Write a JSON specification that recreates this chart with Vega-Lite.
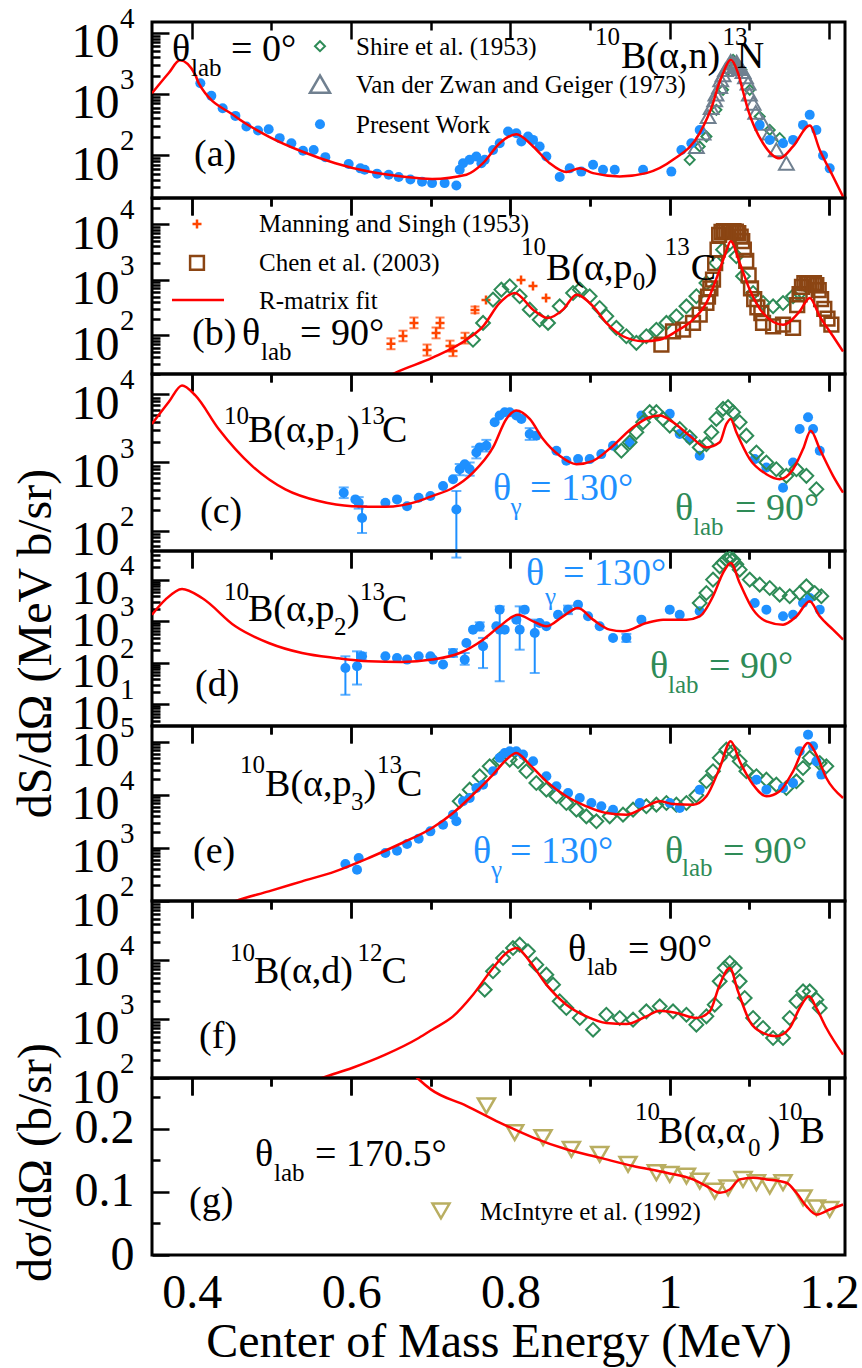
{
  "$schema": "https://vega.github.io/schema/vega-lite/v6.json",
  "background": "white",
  "padding": {"left": 10, "top": 2, "right": 10, "bottom": 5},
  "spacing": 0,
  "bounds": "flush",
  "config": {
    "font": "Liberation Serif",
    "view": {"stroke": "black", "strokeWidth": 3},
    "axis": {
      "domain": false,
      "tickColor": "black",
      "tickWidth": 2.5,
      "gridColor": "black",
      "gridOpacity": 1,
      "gridWidth": 2.5,
      "labelFont": "Liberation Serif",
      "labelFontSize": 48,
      "labelColor": "black",
      "labelOverlap": false,
      "labelFlush": false,
      "titleFont": "Liberation Serif",
      "titleFontSize": 48,
      "titleFontWeight": "normal",
      "titleColor": "black"
    }
  },
  "vconcat": [
    {
      "width": 693,
      "height": 176,
      "encoding": {
        "x": {"field": "E", "type": "quantitative", "scale": {"domain": [0.35, 1.22], "nice": false, "zero": false}, "axis": null},
        "y": {"field": "v", "type": "quantitative", "scale": {"type": "log", "domain": [20, 15000], "nice": false}, "axis": null}
      },
      "resolve": {"axis": {"x": "independent", "y": "independent"}},
      "layer": [
        {
          "data": {"values": [
            {"E": 1.025, "v": 84}, {"E": 1.0376, "v": 139}, {"E": 1.046, "v": 202}, {"E": 1.0585, "v": 551},
            {"E": 1.0669, "v": 1168}, {"E": 1.0732, "v": 2480}, {"E": 1.0795, "v": 3610}, {"E": 1.09, "v": 2480},
            {"E": 1.1004, "v": 1168}, {"E": 1.1129, "v": 428}, {"E": 1.1255, "v": 259}, {"E": 1.138, "v": 190},
            {"E": 0.5609, "v": 6040}
          ]},
          "mark": {"type": "point", "shape": "diamond", "filled": false, "color": "#2e8b57", "size": 100, "strokeWidth": 2, "opacity": 1, "clip": true}
        },
        {
          "data": {"values": [
            {"E": 1.0334, "v": 139}, {"E": 1.0418, "v": 229}, {"E": 1.0481, "v": 428}, {"E": 1.052, "v": 600},
            {"E": 1.0564, "v": 802}, {"E": 1.058, "v": 1000}, {"E": 1.0627, "v": 1325}, {"E": 1.064, "v": 1700},
            {"E": 1.0669, "v": 2055}, {"E": 1.07, "v": 2500}, {"E": 1.0732, "v": 2810}, {"E": 1.0765, "v": 3400},
            {"E": 1.0795, "v": 3187}, {"E": 1.0826, "v": 3000}, {"E": 1.084, "v": 3300}, {"E": 1.0857, "v": 2810},
            {"E": 1.0889, "v": 2600}, {"E": 1.092, "v": 2330}, {"E": 1.0951, "v": 1900}, {"E": 1.0983, "v": 1502},
            {"E": 1.1, "v": 1000}, {"E": 1.1046, "v": 707}, {"E": 1.108, "v": 500}, {"E": 1.1171, "v": 333},
            {"E": 1.1255, "v": 229}, {"E": 1.1338, "v": 122}, {"E": 1.1464, "v": 74}
          ]},
          "mark": {"type": "point", "shape": "triangle-up", "filled": false, "color": "#708090", "size": 220, "strokeWidth": 2, "opacity": 1, "clip": true}
        },
        {
          "data": {"values": [{"E": 0.5609, "v": 1445}]},
          "mark": {"type": "point", "shape": "triangle-up", "filled": false, "color": "#708090", "size": 400, "strokeWidth": 2.5, "opacity": 1}
        },
        {
          "data": {"values": [
            {"E": 0.4107, "v": 1502}, {"E": 0.4245, "v": 932}, {"E": 0.4387, "v": 586}, {"E": 0.4547, "v": 439},
            {"E": 0.4685, "v": 294}, {"E": 0.4831, "v": 253}, {"E": 0.4965, "v": 266}, {"E": 0.5103, "v": 190},
            {"E": 0.525, "v": 157}, {"E": 0.5396, "v": 118}, {"E": 0.553, "v": 122}, {"E": 0.5676, "v": 93},
            {"E": 0.5969, "v": 72}, {"E": 0.6116, "v": 61}, {"E": 0.617, "v": 58}, {"E": 0.6325, "v": 50},
            {"E": 0.6472, "v": 48}, {"E": 0.6597, "v": 44}, {"E": 0.6744, "v": 40}, {"E": 0.689, "v": 37},
            {"E": 0.7016, "v": 35}, {"E": 0.7174, "v": 35}, {"E": 0.7321, "v": 32}, {"E": 0.7363, "v": 58},
            {"E": 0.7405, "v": 74}, {"E": 0.7488, "v": 84}, {"E": 0.7572, "v": 95}, {"E": 0.7635, "v": 74},
            {"E": 0.7677, "v": 84}, {"E": 0.7781, "v": 122}, {"E": 0.7865, "v": 157}, {"E": 0.797, "v": 244},
            {"E": 0.8074, "v": 229}, {"E": 0.8137, "v": 167}, {"E": 0.8221, "v": 202}, {"E": 0.8284, "v": 178},
            {"E": 0.8367, "v": 139}, {"E": 0.8451, "v": 95}, {"E": 0.8618, "v": 44}, {"E": 0.8744, "v": 61},
            {"E": 0.889, "v": 54}, {"E": 0.9037, "v": 70}, {"E": 0.9162, "v": 58}, {"E": 0.9309, "v": 58},
            {"E": 0.9665, "v": 58}, {"E": 1.002, "v": 54}, {"E": 1.0146, "v": 122}, {"E": 1.0271, "v": 157},
            {"E": 1.0376, "v": 259}, {"E": 1.1129, "v": 313}, {"E": 1.1255, "v": 178}, {"E": 1.1422, "v": 157},
            {"E": 1.1548, "v": 178}, {"E": 1.1673, "v": 313}, {"E": 1.1757, "v": 456}, {"E": 1.1841, "v": 259},
            {"E": 1.1924, "v": 99}, {"E": 1.2008, "v": 61},
            {"E": 0.5609, "v": 321}
          ]},
          "mark": {"type": "point", "shape": "circle", "filled": true, "color": "#1e90ff", "size": 100, "opacity": 1, "clip": true}
        },
        {
          "data": {"values": [
            {"E": 0.35, "v": 1030}, {"E": 0.371, "v": 2200}, {"E": 0.385, "v": 3550}, {"E": 0.4044, "v": 2050},
            {"E": 0.4086, "v": 1500}, {"E": 0.4547, "v": 430}, {"E": 0.4965, "v": 202}, {"E": 0.5384, "v": 115},
            {"E": 0.5802, "v": 74}, {"E": 0.622, "v": 54}, {"E": 0.664, "v": 45}, {"E": 0.7016, "v": 41},
            {"E": 0.7447, "v": 48}, {"E": 0.7656, "v": 74}, {"E": 0.7865, "v": 157}, {"E": 0.8074, "v": 220},
            {"E": 0.8284, "v": 139}, {"E": 0.8493, "v": 74}, {"E": 0.8702, "v": 53}, {"E": 0.887, "v": 61},
            {"E": 0.9037, "v": 51}, {"E": 0.9372, "v": 45}, {"E": 0.9706, "v": 51}, {"E": 1.004, "v": 84},
            {"E": 1.0376, "v": 229}, {"E": 1.0543, "v": 708}, {"E": 1.06, "v": 1260}, {"E": 1.0669, "v": 2190},
            {"E": 1.0765, "v": 3610}, {"E": 1.0857, "v": 2190}, {"E": 1.092, "v": 1100}, {"E": 1.0983, "v": 551},
            {"E": 1.1171, "v": 157}, {"E": 1.138, "v": 89}, {"E": 1.1548, "v": 139}, {"E": 1.1757, "v": 305},
            {"E": 1.1883, "v": 122}, {"E": 1.205, "v": 45}, {"E": 1.2176, "v": 21}
          ]},
          "mark": {"type": "line", "color": "red", "strokeWidth": 2.5, "interpolate": "monotone", "clip": true},
          "encoding": {
            "x": {"field": "E", "type": "quantitative", "scale": {"domain": [0.35, 1.22], "nice": false, "zero": false},
              "axis": {"orient": "bottom", "values": [0.4, 0.5, 0.6, 0.7, 0.8, 0.9, 1, 1.1, 1.2], "labels": false, "title": null,
                "tickSize": {"condition": {"test": "abs(datum.value*5-round(datum.value*5))<0.01", "value": 17}, "value": 8},
                "grid": true, "gridDash": {"condition": {"test": "abs(datum.value*5-round(datum.value*5))<0.01", "value": [17, 2000]}, "value": [8, 2000]}}},
            "y": {"field": "v", "type": "quantitative", "scale": {"type": "log", "domain": [20, 15000], "nice": false},
              "axis": {"orient": "left", "values": [20, 30, 40, 50, 60, 70, 80, 90, 100, 200, 300, 400, 500, 600, 700, 800, 900, 1000, 2000, 3000, 4000, 5000, 6000, 7000, 8000, 9000, 10000],
                "ticks": false, "tickSize": 0, "grid": true,
                "gridDash": {"condition": {"test": "abs(log(datum.value)/LN10-round(log(datum.value)/LN10))<0.001", "value": [17, 2000]}, "value": [8, 2000]},
                "labelExpr": "indexof([100,1000,10000],datum.value)>=0?'10':''", "labelPadding": 33, "labelOffset": 10, "title": null}}
          }
        },
        {
          "data": {"values": [
            {"E": 0.3751, "v": 3436, "t": "θ", "grp": "main"},
            {"E": 0.4492, "v": 3436, "t": "= 0°", "grp": "main"},
            {"E": 0.4027, "v": 66, "t": "(a)", "grp": "main"},
            {"E": 0.9388, "v": 2640, "t": "B(α,n)", "grp": "main"},
            {"E": 1.084, "v": 2640, "t": "N", "grp": "main"}
          ]},
          "mark": {"type": "text", "align": "left", "baseline": "alphabetic", "fontSize": 38, "font": "Liberation Serif"},
          "encoding": {
            "text": {"field": "t"},
            "color": {"field": "grp", "type": "nominal", "scale": {"domain": ["main", "gamma", "lab"], "range": ["black", "#1e90ff", "#2e8b57"]}, "legend": null}
          }
        },
        {
          "data": {"values": [
            {"E": 0.399, "v": 1954, "t": "lab", "grp": "main"},
            {"E": 0.9062, "v": 6270, "t": "10", "grp": "main"},
            {"E": 1.0661, "v": 6270, "t": "13", "grp": "main"},
            {"E": 0.6061, "v": 4306, "t": "Shire et al. (1953)", "grp": "main"},
            {"E": 0.6061, "v": 1031, "t": "Van der Zwan and Geiger (1973)", "grp": "main"},
            {"E": 0.6061, "v": 229, "t": "Present Work", "grp": "main"}
          ]},
          "mark": {"type": "text", "align": "left", "baseline": "alphabetic", "fontSize": 25, "font": "Liberation Serif"},
          "encoding": {
            "text": {"field": "t"},
            "color": {"field": "grp", "type": "nominal", "scale": {"domain": ["main", "gamma", "lab"], "range": ["black", "#1e90ff", "#2e8b57"]}, "legend": null},
            "y": {"field": "v", "type": "quantitative", "scale": {"type": "log", "domain": [20, 15000], "nice": false},
              "axis": {"orient": "left", "values": [100, 1000, 10000], "ticks": false, "tickSize": 0, "grid": false,
                "labelExpr": "''+round(log(datum.value)/LN10)", "labelFontSize": 29, "labelPadding": 18, "labelOffset": -14.5, "title": null}}
          }
        }
      ]
    },
    {
      "width": 693,
      "height": 176,
      "encoding": {
        "x": {"field": "E", "type": "quantitative", "scale": {"domain": [0.35, 1.22], "nice": false, "zero": false}, "axis": null},
        "y": {"field": "v", "type": "quantitative", "scale": {"type": "log", "domain": [20, 30000], "nice": false}, "axis": null}
      },
      "resolve": {"axis": {"x": "independent", "y": "independent"}},
      "layer": [
        {
          "data": {"values": [
            {"E": 0.65, "lo": 56, "hi": 88}, {"E": 0.6651, "lo": 78, "hi": 121}, {"E": 0.6789, "lo": 134, "hi": 209},
            {"E": 0.6953, "lo": 43, "hi": 68}, {"E": 0.7066, "lo": 88, "hi": 138}, {"E": 0.7116, "lo": 134, "hi": 209},
            {"E": 0.7241, "lo": 51, "hi": 80}, {"E": 0.7279, "lo": 42, "hi": 65}, {"E": 0.743, "lo": 71, "hi": 111},
            {"E": 0.7555, "lo": 250, "hi": 330}
          ]},
          "mark": {"type": "errorbar", "ticks": true, "size": 9, "thickness": 2, "color": "#ff4500"},
          "encoding": {
            "y": {"field": "lo", "type": "quantitative", "scale": {"type": "log", "domain": [20, 30000], "nice": false}, "axis": null},
            "y2": {"field": "hi"}
          }
        },
        {
          "data": {"values": [
            {"E": 0.65, "v": 70}, {"E": 0.6651, "v": 97}, {"E": 0.6789, "v": 167}, {"E": 0.6953, "v": 54},
            {"E": 0.7066, "v": 110}, {"E": 0.7116, "v": 167}, {"E": 0.7241, "v": 64}, {"E": 0.7279, "v": 52},
            {"E": 0.743, "v": 89}, {"E": 0.7555, "v": 286}, {"E": 0.7693, "v": 434}, {"E": 0.8133, "v": 996},
            {"E": 0.8283, "v": 776}, {"E": 0.8447, "v": 471},
            {"E": 0.4065, "v": 10200}
          ]},
          "mark": {"type": "point", "shape": "M-1,0L1,0M0,-1L0,1", "filled": false, "color": "#ff4500", "size": 81, "strokeWidth": 2.5, "opacity": 1, "clip": true}
        },
        {
          "data": {"values": [
            {"E": 0.753, "v": 83}, {"E": 0.7656, "v": 167}, {"E": 0.7781, "v": 440}, {"E": 0.7886, "v": 667},
            {"E": 0.7991, "v": 766}, {"E": 0.8116, "v": 505}, {"E": 0.8242, "v": 290}, {"E": 0.8367, "v": 191},
            {"E": 0.8472, "v": 167}, {"E": 0.8618, "v": 333}, {"E": 0.8786, "v": 580}, {"E": 0.887, "v": 667},
            {"E": 0.8995, "v": 505}, {"E": 0.912, "v": 311}, {"E": 0.9204, "v": 220}, {"E": 0.933, "v": 136},
            {"E": 0.9455, "v": 96}, {"E": 0.9581, "v": 73}, {"E": 0.9706, "v": 96}, {"E": 0.9832, "v": 126},
            {"E": 0.9958, "v": 167}, {"E": 1.0083, "v": 220}, {"E": 1.0209, "v": 333}, {"E": 1.0334, "v": 505},
            {"E": 1.046, "v": 879}, {"E": 1.0585, "v": 2017}, {"E": 1.0669, "v": 3508}, {"E": 1.0753, "v": 4629},
            {"E": 1.0836, "v": 2661}, {"E": 1.092, "v": 1159}, {"E": 1.1046, "v": 580}, {"E": 1.1171, "v": 383},
            {"E": 1.1297, "v": 333}, {"E": 1.1422, "v": 383}, {"E": 1.1548, "v": 505}, {"E": 1.1631, "v": 580}
          ]},
          "mark": {"type": "point", "shape": "diamond", "filled": false, "color": "#2e8b57", "size": 190, "strokeWidth": 2, "opacity": 1, "clip": true}
        },
        {
          "data": {"values": [
            {"E": 0.9895, "v": 68}, {"E": 1.0041, "v": 118}, {"E": 1.0167, "v": 126}, {"E": 1.0292, "v": 167},
            {"E": 1.0376, "v": 236}, {"E": 1.046, "v": 383}, {"E": 1.048, "v": 500}, {"E": 1.051, "v": 700},
            {"E": 1.0543, "v": 1009}, {"E": 1.057, "v": 2000}, {"E": 1.06, "v": 3500}, {"E": 1.062, "v": 6500},
            {"E": 1.065, "v": 7300}, {"E": 1.068, "v": 7600}, {"E": 1.071, "v": 7600}, {"E": 1.074, "v": 7600},
            {"E": 1.077, "v": 7600}, {"E": 1.08, "v": 7600}, {"E": 1.083, "v": 7400}, {"E": 1.086, "v": 7000},
            {"E": 1.089, "v": 6000}, {"E": 1.091, "v": 5000}, {"E": 1.093, "v": 3500}, {"E": 1.096, "v": 2200},
            {"E": 1.099, "v": 1200}, {"E": 1.102, "v": 700}, {"E": 1.106, "v": 450}, {"E": 1.11, "v": 320},
            {"E": 1.115, "v": 250}, {"E": 1.1171, "v": 167}, {"E": 1.1297, "v": 145}, {"E": 1.1422, "v": 155},
            {"E": 1.1548, "v": 136}, {"E": 1.16, "v": 350}, {"E": 1.163, "v": 550}, {"E": 1.166, "v": 750},
            {"E": 1.169, "v": 870}, {"E": 1.172, "v": 870}, {"E": 1.175, "v": 870}, {"E": 1.178, "v": 870},
            {"E": 1.181, "v": 870}, {"E": 1.184, "v": 800}, {"E": 1.187, "v": 650}, {"E": 1.19, "v": 450},
            {"E": 1.194, "v": 300}, {"E": 1.198, "v": 200}, {"E": 1.2029, "v": 155},
            {"E": 0.4065, "v": 2018}
          ]},
          "mark": {"type": "point", "shape": "square", "filled": false, "color": "#8b4513", "size": 190, "strokeWidth": 2.5, "opacity": 1, "clip": true}
        },
        {
          "data": {"values": [{"E": 0.3751, "v": 433}, {"E": 0.4404, "v": 433}]},
          "mark": {"type": "line", "color": "red", "strokeWidth": 2.5}
        },
        {
          "data": {"values": [
            {"E": 0.64, "v": 16}, {"E": 0.6555, "v": 21}, {"E": 0.7016, "v": 39}, {"E": 0.7447, "v": 83},
            {"E": 0.7656, "v": 145}, {"E": 0.7865, "v": 383}, {"E": 0.8053, "v": 580}, {"E": 0.8284, "v": 290},
            {"E": 0.8472, "v": 205}, {"E": 0.866, "v": 290}, {"E": 0.8828, "v": 541}, {"E": 0.9037, "v": 333},
            {"E": 0.9204, "v": 167}, {"E": 0.9413, "v": 96}, {"E": 0.9665, "v": 78}, {"E": 0.9874, "v": 83},
            {"E": 1.0083, "v": 118}, {"E": 1.0292, "v": 191}, {"E": 1.046, "v": 383}, {"E": 1.0627, "v": 1528},
            {"E": 1.07, "v": 3000}, {"E": 1.0765, "v": 4966}, {"E": 1.0878, "v": 2017}, {"E": 1.1004, "v": 666},
            {"E": 1.1171, "v": 252}, {"E": 1.1422, "v": 155}, {"E": 1.1631, "v": 270}, {"E": 1.1757, "v": 471},
            {"E": 1.1883, "v": 220}, {"E": 1.205, "v": 96}, {"E": 1.2176, "v": 51}
          ]},
          "mark": {"type": "line", "color": "red", "strokeWidth": 2.5, "interpolate": "monotone", "clip": true},
          "encoding": {
            "x": {"field": "E", "type": "quantitative", "scale": {"domain": [0.35, 1.22], "nice": false, "zero": false},
              "axis": {"orient": "bottom", "values": [0.4, 0.5, 0.6, 0.7, 0.8, 0.9, 1, 1.1, 1.2], "labels": false, "title": null,
                "tickSize": {"condition": {"test": "abs(datum.value*5-round(datum.value*5))<0.01", "value": 17}, "value": 8},
                "grid": true, "gridDash": {"condition": {"test": "abs(datum.value*5-round(datum.value*5))<0.01", "value": [17, 2000]}, "value": [8, 2000]}}},
            "y": {"field": "v", "type": "quantitative", "scale": {"type": "log", "domain": [20, 30000], "nice": false},
              "axis": {"orient": "left", "values": [20, 30, 40, 50, 60, 70, 80, 90, 100, 200, 300, 400, 500, 600, 700, 800, 900, 1000, 2000, 3000, 4000, 5000, 6000, 7000, 8000, 9000, 10000, 20000],
                "ticks": false, "tickSize": 0, "grid": true,
                "gridDash": {"condition": {"test": "abs(log(datum.value)/LN10-round(log(datum.value)/LN10))<0.001", "value": [17, 2000]}, "value": [8, 2000]},
                "labelExpr": "indexof([100,1000,10000],datum.value)>=0?'10':''", "labelPadding": 33, "labelOffset": 10, "title": null}}
          }
        },
        {
          "data": {"values": [
            {"E": 0.4002, "v": 66.8, "t": "(b)", "grp": "main"},
            {"E": 0.463, "v": 66.8, "t": "θ", "grp": "main"},
            {"E": 0.5358, "v": 66.8, "t": "= 90°", "grp": "main"},
            {"E": 0.8447, "v": 995, "t": "B(α,p", "grp": "main"},
            {"E": 0.9687, "v": 995, "t": ")", "grp": "main"},
            {"E": 1.0264, "v": 995, "t": "C", "grp": "main"}
          ]},
          "mark": {"type": "text", "align": "left", "baseline": "alphabetic", "fontSize": 38, "font": "Liberation Serif"},
          "encoding": {
            "text": {"field": "t"},
            "color": {"field": "grp", "type": "nominal", "scale": {"domain": ["main", "gamma", "lab"], "range": ["black", "#1e90ff", "#2e8b57"]}, "legend": null}
          }
        },
        {
          "data": {"values": [
            {"E": 0.4869, "v": 35.8, "t": "lab", "grp": "main"},
            {"E": 0.8133, "v": 2812, "t": "10", "grp": "main"},
            {"E": 0.9536, "v": 658, "t": "0", "grp": "main"},
            {"E": 0.9938, "v": 2812, "t": "13", "grp": "main"},
            {"E": 0.4843, "v": 7330, "t": "Manning and Singh (1953)", "grp": "main"},
            {"E": 0.4843, "v": 1449, "t": "Chen et al. (2003)", "grp": "main"},
            {"E": 0.4843, "v": 298, "t": "R-matrix fit", "grp": "main"}
          ]},
          "mark": {"type": "text", "align": "left", "baseline": "alphabetic", "fontSize": 25, "font": "Liberation Serif"},
          "encoding": {
            "text": {"field": "t"},
            "color": {"field": "grp", "type": "nominal", "scale": {"domain": ["main", "gamma", "lab"], "range": ["black", "#1e90ff", "#2e8b57"]}, "legend": null},
            "y": {"field": "v", "type": "quantitative", "scale": {"type": "log", "domain": [20, 30000], "nice": false},
              "axis": {"orient": "left", "values": [100, 1000, 10000], "ticks": false, "tickSize": 0, "grid": false,
                "labelExpr": "''+round(log(datum.value)/LN10)", "labelFontSize": 29, "labelPadding": 18, "labelOffset": -14.5, "title": null}}
          }
        }
      ]
    },
    {
      "width": 693,
      "height": 177,
      "encoding": {
        "x": {"field": "E", "type": "quantitative", "scale": {"domain": [0.35, 1.22], "nice": false, "zero": false}, "axis": null},
        "y": {"field": "v", "type": "quantitative", "scale": {"type": "log", "domain": [50, 20000], "nice": false}, "axis": null}
      },
      "resolve": {"axis": {"x": "independent", "y": "independent"}},
      "layer": [
        {
          "data": {"values": [
            {"E": 0.5907, "lo": 300, "hi": 430}, {"E": 0.6095, "lo": 210, "hi": 310}, {"E": 0.6137, "lo": 92, "hi": 228},
            {"E": 0.7321, "lo": 40, "hi": 381}, {"E": 0.7363, "lo": 650, "hi": 950}, {"E": 0.7488, "lo": 640, "hi": 1000},
            {"E": 0.7572, "lo": 1150, "hi": 1700}, {"E": 0.7698, "lo": 1450, "hi": 2150}, {"E": 0.8242, "lo": 2150, "hi": 3200}
          ]},
          "mark": {"type": "errorbar", "ticks": true, "size": 10, "thickness": 2, "color": "#1e90ff"},
          "encoding": {
            "y": {"field": "lo", "type": "quantitative", "scale": {"type": "log", "domain": [50, 20000], "nice": false}, "axis": null},
            "y2": {"field": "hi"}
          }
        },
        {
          "data": {"values": [
            {"E": 0.5907, "v": 360}, {"E": 0.6053, "v": 287}, {"E": 0.6095, "v": 256}, {"E": 0.6137, "v": 153},
            {"E": 0.643, "v": 256}, {"E": 0.6576, "v": 287}, {"E": 0.6702, "v": 228}, {"E": 0.6848, "v": 304},
            {"E": 0.6995, "v": 321}, {"E": 0.7154, "v": 452}, {"E": 0.7279, "v": 568}, {"E": 0.7321, "v": 204},
            {"E": 0.7363, "v": 796}, {"E": 0.7426, "v": 945}, {"E": 0.7488, "v": 796}, {"E": 0.7572, "v": 1406},
            {"E": 0.7614, "v": 1667}, {"E": 0.7698, "v": 1766}, {"E": 0.7802, "v": 3909}, {"E": 0.7865, "v": 4900},
            {"E": 0.7928, "v": 5495}, {"E": 0.7991, "v": 5495}, {"E": 0.8074, "v": 4900}, {"E": 0.8137, "v": 4375},
            {"E": 0.8242, "v": 2624}, {"E": 0.8325, "v": 2479}, {"E": 0.8577, "v": 1489}, {"E": 0.8702, "v": 1059},
            {"E": 0.8849, "v": 1122}, {"E": 0.8995, "v": 1122}, {"E": 0.9141, "v": 1329}, {"E": 0.9288, "v": 1766},
            {"E": 0.9497, "v": 1977}, {"E": 0.9644, "v": 4900}, {"E": 1.0, "v": 5190}, {"E": 1.0125, "v": 2624},
            {"E": 1.025, "v": 2213}, {"E": 1.0376, "v": 1256}, {"E": 1.1067, "v": 1122}, {"E": 1.1213, "v": 843},
            {"E": 1.1422, "v": 426}, {"E": 1.1548, "v": 1000}, {"E": 1.1631, "v": 3110}, {"E": 1.1736, "v": 4634},
            {"E": 1.1799, "v": 3110}, {"E": 1.1883, "v": 1489}
          ]},
          "mark": {"type": "point", "shape": "circle", "filled": true, "color": "#1e90ff", "size": 100, "opacity": 1, "clip": true}
        },
        {
          "data": {"values": [
            {"E": 0.9392, "v": 1489}, {"E": 0.9497, "v": 1977}, {"E": 0.9581, "v": 2780}, {"E": 0.9665, "v": 3909},
            {"E": 0.9748, "v": 5495}, {"E": 0.9832, "v": 5495}, {"E": 0.9916, "v": 4375}, {"E": 1.0, "v": 3487},
            {"E": 1.0125, "v": 3110}, {"E": 1.025, "v": 2344}, {"E": 1.0376, "v": 1667}, {"E": 1.046, "v": 1866},
            {"E": 1.0523, "v": 2780}, {"E": 1.0585, "v": 4375}, {"E": 1.0669, "v": 6150}, {"E": 1.0732, "v": 6515},
            {"E": 1.0795, "v": 5495}, {"E": 1.0878, "v": 3909}, {"E": 1.0962, "v": 2479}, {"E": 1.1088, "v": 1406},
            {"E": 1.1213, "v": 1000}, {"E": 1.1338, "v": 796}, {"E": 1.1464, "v": 636}, {"E": 1.159, "v": 796},
            {"E": 1.1715, "v": 636}, {"E": 1.1841, "v": 404}
          ]},
          "mark": {"type": "point", "shape": "diamond", "filled": false, "color": "#2e8b57", "size": 190, "strokeWidth": 2, "opacity": 1, "clip": true}
        },
        {
          "data": {"values": [
            {"E": 0.35, "v": 3690}, {"E": 0.371, "v": 7730}, {"E": 0.3877, "v": 13600}, {"E": 0.4044, "v": 9680},
            {"E": 0.4337, "v": 3110}, {"E": 0.4756, "v": 893}, {"E": 0.5174, "v": 403}, {"E": 0.5593, "v": 271},
            {"E": 0.6011, "v": 228}, {"E": 0.643, "v": 223}, {"E": 0.6848, "v": 271}, {"E": 0.7016, "v": 321},
            {"E": 0.7279, "v": 426}, {"E": 0.753, "v": 711}, {"E": 0.7781, "v": 1667}, {"E": 0.7949, "v": 4375},
            {"E": 0.8074, "v": 5810}, {"E": 0.8242, "v": 4375}, {"E": 0.8409, "v": 2213}, {"E": 0.8618, "v": 1256},
            {"E": 0.8828, "v": 945}, {"E": 0.9037, "v": 1059}, {"E": 0.9288, "v": 1766}, {"E": 0.9539, "v": 3296},
            {"E": 0.9748, "v": 4634}, {"E": 0.9874, "v": 4900}, {"E": 1.0041, "v": 3909}, {"E": 1.025, "v": 2479},
            {"E": 1.046, "v": 1667}, {"E": 1.0627, "v": 1977}, {"E": 1.0711, "v": 3690}, {"E": 1.0765, "v": 4375},
            {"E": 1.0836, "v": 2780}, {"E": 1.1004, "v": 1122}, {"E": 1.1213, "v": 673}, {"E": 1.138, "v": 568},
            {"E": 1.1548, "v": 796}, {"E": 1.1673, "v": 1574}, {"E": 1.177, "v": 2938}, {"E": 1.1883, "v": 1574},
            {"E": 1.205, "v": 636}, {"E": 1.2176, "v": 360}
          ]},
          "mark": {"type": "line", "color": "red", "strokeWidth": 2.5, "interpolate": "monotone", "clip": true},
          "encoding": {
            "x": {"field": "E", "type": "quantitative", "scale": {"domain": [0.35, 1.22], "nice": false, "zero": false},
              "axis": {"orient": "bottom", "values": [0.4, 0.5, 0.6, 0.7, 0.8, 0.9, 1, 1.1, 1.2], "labels": false, "title": null,
                "tickSize": {"condition": {"test": "abs(datum.value*5-round(datum.value*5))<0.01", "value": 17}, "value": 8},
                "grid": true, "gridDash": {"condition": {"test": "abs(datum.value*5-round(datum.value*5))<0.01", "value": [17, 2000]}, "value": [8, 2000]}}},
            "y": {"field": "v", "type": "quantitative", "scale": {"type": "log", "domain": [50, 20000], "nice": false},
              "axis": {"orient": "left", "values": [60, 70, 80, 90, 100, 200, 300, 400, 500, 600, 700, 800, 900, 1000, 2000, 3000, 4000, 5000, 6000, 7000, 8000, 9000, 10000],
                "ticks": false, "tickSize": 0, "grid": true,
                "gridDash": {"condition": {"test": "abs(log(datum.value)/LN10-round(log(datum.value)/LN10))<0.001", "value": [17, 2000]}, "value": [8, 2000]},
                "labelExpr": "indexof([100,1000,10000],datum.value)>=0?'10':''", "labelPadding": 33, "labelOffset": 10, "title": null}}
          }
        },
        {
          "data": {"values": [
            {"E": 0.4705, "v": 1977, "t": "B(α,p", "grp": "main"},
            {"E": 0.5948, "v": 1977, "t": ")", "grp": "main"},
            {"E": 0.6388, "v": 1977, "t": "C", "grp": "main"},
            {"E": 0.4103, "v": 129, "t": "(c)", "grp": "main"},
            {"E": 0.7781, "v": 284, "t": "θ", "grp": "gamma"},
            {"E": 0.8246, "v": 284, "t": "= 130°", "grp": "gamma"},
            {"E": 1.0066, "v": 143.6, "t": "θ", "grp": "lab"},
            {"E": 1.082, "v": 143.6, "t": "= 90°", "grp": "lab"}
          ]},
          "mark": {"type": "text", "align": "left", "baseline": "alphabetic", "fontSize": 38, "font": "Liberation Serif"},
          "encoding": {
            "text": {"field": "t"},
            "color": {"field": "grp", "type": "nominal", "scale": {"domain": ["main", "gamma", "lab"], "range": ["black", "#1e90ff", "#2e8b57"]}, "legend": null}
          }
        },
        {
          "data": {"values": [
            {"E": 0.4404, "v": 3648, "t": "10", "grp": "main"},
            {"E": 0.5785, "v": 1270, "t": "1", "grp": "main"},
            {"E": 0.6112, "v": 3648, "t": "13", "grp": "main"},
            {"E": 0.8, "v": 170, "t": "γ", "grp": "gamma"},
            {"E": 1.0292, "v": 86, "t": "lab", "grp": "lab"}
          ]},
          "mark": {"type": "text", "align": "left", "baseline": "alphabetic", "fontSize": 25, "font": "Liberation Serif"},
          "encoding": {
            "text": {"field": "t"},
            "color": {"field": "grp", "type": "nominal", "scale": {"domain": ["main", "gamma", "lab"], "range": ["black", "#1e90ff", "#2e8b57"]}, "legend": null},
            "y": {"field": "v", "type": "quantitative", "scale": {"type": "log", "domain": [50, 20000], "nice": false},
              "axis": {"orient": "left", "values": [100, 1000, 10000], "ticks": false, "tickSize": 0, "grid": false,
                "labelExpr": "''+round(log(datum.value)/LN10)", "labelFontSize": 29, "labelPadding": 18, "labelOffset": -14.5, "title": null}}
          }
        }
      ]
    },
    {
      "width": 693,
      "height": 175,
      "encoding": {
        "x": {"field": "E", "type": "quantitative", "scale": {"domain": [0.35, 1.22], "nice": false, "zero": false}, "axis": null},
        "y": {"field": "v", "type": "quantitative", "scale": {"type": "log", "domain": [3, 50000], "nice": false}, "axis": null}
      },
      "resolve": {"axis": {"x": "independent", "y": "independent"}},
      "layer": [
        {
          "data": {"values": [
            {"E": 0.5928, "lo": 17, "hi": 144}, {"E": 0.6074, "lo": 30, "hi": 190}, {"E": 0.6137, "lo": 115, "hi": 175},
            {"E": 0.7279, "lo": 140, "hi": 215}, {"E": 0.7426, "lo": 90, "hi": 173}, {"E": 0.7614, "lo": 600, "hi": 950},
            {"E": 0.7656, "lo": 75, "hi": 400}, {"E": 0.7865, "lo": 36, "hi": 2311}, {"E": 0.8116, "lo": 208, "hi": 2311},
            {"E": 0.8305, "lo": 57, "hi": 1104}, {"E": 0.8723, "lo": 1500, "hi": 2400}, {"E": 0.9455, "lo": 320, "hi": 500}
          ]},
          "mark": {"type": "errorbar", "ticks": true, "size": 10, "thickness": 2, "color": "#1e90ff"},
          "encoding": {
            "y": {"field": "lo", "type": "quantitative", "scale": {"type": "log", "domain": [3, 50000], "nice": false}, "axis": null},
            "y2": {"field": "hi"}
          }
        },
        {
          "data": {"values": [
            {"E": 0.5928, "v": 75}, {"E": 0.6074, "v": 83}, {"E": 0.6137, "v": 144}, {"E": 0.643, "v": 144},
            {"E": 0.6576, "v": 131}, {"E": 0.6702, "v": 120}, {"E": 0.6848, "v": 144}, {"E": 0.6995, "v": 144},
            {"E": 0.7028, "v": 120}, {"E": 0.7154, "v": 91}, {"E": 0.7279, "v": 173}, {"E": 0.7426, "v": 120},
            {"E": 0.7447, "v": 302}, {"E": 0.753, "v": 634}, {"E": 0.7614, "v": 762}, {"E": 0.7656, "v": 251},
            {"E": 0.7823, "v": 762}, {"E": 0.7865, "v": 1923}, {"E": 0.7865, "v": 634}, {"E": 0.7928, "v": 634},
            {"E": 0.8074, "v": 1104}, {"E": 0.8116, "v": 634}, {"E": 0.8179, "v": 1923}, {"E": 0.8305, "v": 526},
            {"E": 0.8367, "v": 916}, {"E": 0.8451, "v": 762}, {"E": 0.8597, "v": 1455}, {"E": 0.8723, "v": 1923},
            {"E": 0.8848, "v": 2541}, {"E": 0.8974, "v": 1327}, {"E": 0.912, "v": 762}, {"E": 0.9288, "v": 399},
            {"E": 0.9455, "v": 399}, {"E": 0.9644, "v": 1104}, {"E": 1.0, "v": 1923}, {"E": 1.0125, "v": 1455},
            {"E": 1.0376, "v": 1754}, {"E": 1.1067, "v": 2787}, {"E": 1.1213, "v": 1923}, {"E": 1.1422, "v": 1327},
            {"E": 1.1548, "v": 1455}, {"E": 1.1673, "v": 2787}, {"E": 1.1757, "v": 3680}, {"E": 1.1883, "v": 1923}
          ]},
          "mark": {"type": "point", "shape": "circle", "filled": true, "color": "#1e90ff", "size": 100, "opacity": 1, "clip": true}
        },
        {
          "data": {"values": [
            {"E": 1.0376, "v": 2787}, {"E": 1.046, "v": 4855}, {"E": 1.0543, "v": 10200}, {"E": 1.0627, "v": 21350},
            {"E": 1.0669, "v": 26000}, {"E": 1.0711, "v": 30900}, {"E": 1.0753, "v": 33000}, {"E": 1.0795, "v": 30900},
            {"E": 1.0836, "v": 24000}, {"E": 1.0878, "v": 17750}, {"E": 1.1004, "v": 10200}, {"E": 1.1129, "v": 7710},
            {"E": 1.1255, "v": 6410}, {"E": 1.138, "v": 4430}, {"E": 1.1506, "v": 4036}, {"E": 1.1631, "v": 4855},
            {"E": 1.1715, "v": 7030}, {"E": 1.182, "v": 4855}, {"E": 1.1903, "v": 4036}
          ]},
          "mark": {"type": "point", "shape": "diamond", "filled": false, "color": "#2e8b57", "size": 190, "strokeWidth": 2, "opacity": 1, "clip": true}
        },
        {
          "data": {"values": [
            {"E": 0.35, "v": 1455}, {"E": 0.3668, "v": 3350}, {"E": 0.3877, "v": 6065}, {"E": 0.4128, "v": 3675},
            {"E": 0.4547, "v": 762}, {"E": 0.4965, "v": 302}, {"E": 0.5384, "v": 173}, {"E": 0.5802, "v": 131},
            {"E": 0.622, "v": 109}, {"E": 0.6639, "v": 105}, {"E": 0.7016, "v": 120}, {"E": 0.7363, "v": 173},
            {"E": 0.7656, "v": 363}, {"E": 0.7865, "v": 762}, {"E": 0.8095, "v": 1455}, {"E": 0.8284, "v": 1007},
            {"E": 0.8451, "v": 762}, {"E": 0.866, "v": 1327}, {"E": 0.8848, "v": 2109}, {"E": 0.9037, "v": 1104},
            {"E": 0.9246, "v": 634}, {"E": 0.9413, "v": 578}, {"E": 0.9706, "v": 916}, {"E": 0.9916, "v": 1104},
            {"E": 1.0209, "v": 1104}, {"E": 1.0376, "v": 1327}, {"E": 1.0543, "v": 4036}, {"E": 1.0669, "v": 14750},
            {"E": 1.0765, "v": 25700}, {"E": 1.0878, "v": 8450}, {"E": 1.1046, "v": 1923}, {"E": 1.1213, "v": 1007},
            {"E": 1.1422, "v": 836}, {"E": 1.159, "v": 1327}, {"E": 1.1757, "v": 3055}, {"E": 1.1883, "v": 1327},
            {"E": 1.205, "v": 634}, {"E": 1.2176, "v": 363}
          ]},
          "mark": {"type": "line", "color": "red", "strokeWidth": 2.5, "interpolate": "monotone", "clip": true},
          "encoding": {
            "x": {"field": "E", "type": "quantitative", "scale": {"domain": [0.35, 1.22], "nice": false, "zero": false},
              "axis": {"orient": "bottom", "values": [0.4, 0.5, 0.6, 0.7, 0.8, 0.9, 1, 1.1, 1.2], "labels": false, "title": null,
                "tickSize": {"condition": {"test": "abs(datum.value*5-round(datum.value*5))<0.01", "value": 17}, "value": 8},
                "grid": true, "gridDash": {"condition": {"test": "abs(datum.value*5-round(datum.value*5))<0.01", "value": [17, 2000]}, "value": [8, 2000]}}},
            "y": {"field": "v", "type": "quantitative", "scale": {"type": "log", "domain": [3, 50000], "nice": false},
              "axis": {"orient": "left", "values": [4, 5, 6, 7, 8, 9, 10, 20, 30, 40, 50, 60, 70, 80, 90, 100, 200, 300, 400, 500, 600, 700, 800, 900, 1000, 2000, 3000, 4000, 5000, 6000, 7000, 8000, 9000, 10000, 20000, 30000, 40000],
                "ticks": false, "tickSize": 0, "grid": true,
                "gridDash": {"condition": {"test": "abs(log(datum.value)/LN10-round(log(datum.value)/LN10))<0.001", "value": [17, 2000]}, "value": [8, 2000]},
                "labelExpr": "indexof([10,100,1000,10000],datum.value)>=0?'10':''", "labelPadding": 33, "labelOffset": 10,
                "title": "dS/dΩ (MeV b/sr)", "titleX": -102, "titleY": 92, "titleAngle": -90, "titleBaseline": "alphabetic", "titleAlign": "center"}}
          }
        },
        {
          "data": {"values": [
            {"E": 0.4705, "v": 1026, "t": "B(α,p", "grp": "main"},
            {"E": 0.5948, "v": 1026, "t": ")", "grp": "main"},
            {"E": 0.6388, "v": 1026, "t": "C", "grp": "main"},
            {"E": 0.404, "v": 15.9, "t": "(d)", "grp": "main"},
            {"E": 0.8196, "v": 7570, "t": "θ", "grp": "gamma"},
            {"E": 0.866, "v": 7570, "t": "= 130°", "grp": "gamma"},
            {"E": 0.9752, "v": 43.3, "t": "θ", "grp": "lab"},
            {"E": 1.0493, "v": 43.3, "t": "= 90°", "grp": "lab"}
          ]},
          "mark": {"type": "text", "align": "left", "baseline": "alphabetic", "fontSize": 38, "font": "Liberation Serif"},
          "encoding": {
            "text": {"field": "t"},
            "color": {"field": "grp", "type": "nominal", "scale": {"domain": ["main", "gamma", "lab"], "range": ["black", "#1e90ff", "#2e8b57"]}, "legend": null}
          }
        },
        {
          "data": {"values": [
            {"E": 0.4404, "v": 3290, "t": "10", "grp": "main"},
            {"E": 0.5785, "v": 471, "t": "2", "grp": "main"},
            {"E": 0.6112, "v": 3290, "t": "13", "grp": "main"},
            {"E": 0.8434, "v": 2493, "t": "γ", "grp": "gamma"},
            {"E": 0.9978, "v": 18.8, "t": "lab", "grp": "lab"}
          ]},
          "mark": {"type": "text", "align": "left", "baseline": "alphabetic", "fontSize": 25, "font": "Liberation Serif"},
          "encoding": {
            "text": {"field": "t"},
            "color": {"field": "grp", "type": "nominal", "scale": {"domain": ["main", "gamma", "lab"], "range": ["black", "#1e90ff", "#2e8b57"]}, "legend": null},
            "y": {"field": "v", "type": "quantitative", "scale": {"type": "log", "domain": [3, 50000], "nice": false},
              "axis": {"orient": "left", "values": [10, 100, 1000, 10000], "ticks": false, "tickSize": 0, "grid": false,
                "labelExpr": "''+round(log(datum.value)/LN10)", "labelFontSize": 29, "labelPadding": 18, "labelOffset": -14.5, "title": null}}
          }
        }
      ]
    },
    {
      "width": 693,
      "height": 175,
      "encoding": {
        "x": {"field": "E", "type": "quantitative", "scale": {"domain": [0.35, 1.22], "nice": false, "zero": false}, "axis": null},
        "y": {"field": "v", "type": "quantitative", "scale": {"type": "log", "domain": [100, 200000], "nice": false}, "axis": null}
      },
      "resolve": {"axis": {"x": "independent", "y": "independent"}},
      "layer": [
        {
          "data": {"values": [
            {"E": 0.7363, "v": 7600}, {"E": 0.7488, "v": 12600}, {"E": 0.7614, "v": 22500}, {"E": 0.7739, "v": 34750},
            {"E": 0.7865, "v": 46450}, {"E": 0.7991, "v": 46450}, {"E": 0.8095, "v": 43150}, {"E": 0.82, "v": 28000},
            {"E": 0.8325, "v": 16830}, {"E": 0.8451, "v": 12600}, {"E": 0.8577, "v": 9440}, {"E": 0.8702, "v": 7060},
            {"E": 0.8828, "v": 5280}, {"E": 0.8953, "v": 3955}, {"E": 0.9079, "v": 3185}, {"E": 0.9246, "v": 3955},
            {"E": 0.9413, "v": 4254}, {"E": 0.9539, "v": 5280}, {"E": 0.9706, "v": 6110}, {"E": 0.9832, "v": 6570},
            {"E": 0.9958, "v": 7060}, {"E": 1.0083, "v": 6570}, {"E": 1.0209, "v": 7060}, {"E": 1.0334, "v": 9860},
            {"E": 1.046, "v": 18100}, {"E": 1.0543, "v": 28000}, {"E": 1.0627, "v": 50100}, {"E": 1.0711, "v": 71600},
            {"E": 1.0795, "v": 66700}, {"E": 1.0878, "v": 43150}, {"E": 1.0962, "v": 28000}, {"E": 1.1088, "v": 22500},
            {"E": 1.1213, "v": 19450}, {"E": 1.1338, "v": 15660}, {"E": 1.1464, "v": 13550}, {"E": 1.159, "v": 18100},
            {"E": 1.1673, "v": 32300}, {"E": 1.1757, "v": 50100}, {"E": 1.1883, "v": 40200}, {"E": 1.1966, "v": 34750}
          ]},
          "mark": {"type": "point", "shape": "diamond", "filled": false, "color": "#2e8b57", "size": 190, "strokeWidth": 2, "opacity": 1, "clip": true}
        },
        {
          "data": {"values": [
            {"E": 0.5928, "v": 499}, {"E": 0.6074, "v": 390}, {"E": 0.6095, "v": 648}, {"E": 0.643, "v": 805},
            {"E": 0.6576, "v": 891}, {"E": 0.6702, "v": 1190}, {"E": 0.6848, "v": 1500}, {"E": 0.6995, "v": 2060},
            {"E": 0.7154, "v": 2754}, {"E": 0.7279, "v": 4254}, {"E": 0.7321, "v": 3185}, {"E": 0.7405, "v": 7600},
            {"E": 0.7488, "v": 8770}, {"E": 0.7572, "v": 13550}, {"E": 0.7656, "v": 15660}, {"E": 0.7781, "v": 28000},
            {"E": 0.7865, "v": 50100}, {"E": 0.7928, "v": 62000}, {"E": 0.7991, "v": 66700}, {"E": 0.8074, "v": 66700},
            {"E": 0.8158, "v": 57700}, {"E": 0.8284, "v": 43150}, {"E": 0.8451, "v": 22500}, {"E": 0.8577, "v": 14560},
            {"E": 0.8723, "v": 10900}, {"E": 0.887, "v": 8770}, {"E": 0.9016, "v": 7060}, {"E": 0.9141, "v": 6110},
            {"E": 0.9288, "v": 5280}, {"E": 0.9623, "v": 7060}, {"E": 1.0, "v": 7060}, {"E": 1.0125, "v": 5680},
            {"E": 1.0376, "v": 12600}, {"E": 1.1088, "v": 19450}, {"E": 1.1213, "v": 12600}, {"E": 1.1422, "v": 13550},
            {"E": 1.1548, "v": 16830}, {"E": 1.1631, "v": 66700}, {"E": 1.1736, "v": 137400}, {"E": 1.1799, "v": 82800},
            {"E": 1.1841, "v": 43150}, {"E": 1.1903, "v": 24200}
          ]},
          "mark": {"type": "point", "shape": "circle", "filled": true, "color": "#1e90ff", "size": 100, "opacity": 1, "clip": true}
        },
        {
          "data": {"values": [
            {"E": 0.44, "v": 80}, {"E": 0.4547, "v": 99}, {"E": 0.4965, "v": 152}, {"E": 0.5384, "v": 235},
            {"E": 0.5802, "v": 363}, {"E": 0.622, "v": 648}, {"E": 0.6639, "v": 1242}, {"E": 0.7016, "v": 2384},
            {"E": 0.7279, "v": 4571}, {"E": 0.753, "v": 10140}, {"E": 0.7781, "v": 24200}, {"E": 0.7949, "v": 46450},
            {"E": 0.8074, "v": 62000}, {"E": 0.8242, "v": 37300}, {"E": 0.8451, "v": 18100}, {"E": 0.8702, "v": 9440},
            {"E": 0.8953, "v": 6110}, {"E": 0.9204, "v": 4571}, {"E": 0.9455, "v": 4254}, {"E": 0.9706, "v": 6110},
            {"E": 0.9874, "v": 7600}, {"E": 1.0041, "v": 6760}, {"E": 1.0292, "v": 6570}, {"E": 1.046, "v": 9440},
            {"E": 1.0627, "v": 32300}, {"E": 1.0765, "v": 103000}, {"E": 1.0878, "v": 43150}, {"E": 1.1046, "v": 15660},
            {"E": 1.1213, "v": 9440}, {"E": 1.138, "v": 11720}, {"E": 1.1548, "v": 28000}, {"E": 1.1736, "v": 95700},
            {"E": 1.1841, "v": 57700}, {"E": 1.1966, "v": 20900}, {"E": 1.2176, "v": 8770}
          ]},
          "mark": {"type": "line", "color": "red", "strokeWidth": 2.5, "interpolate": "monotone", "clip": true},
          "encoding": {
            "x": {"field": "E", "type": "quantitative", "scale": {"domain": [0.35, 1.22], "nice": false, "zero": false},
              "axis": {"orient": "bottom", "values": [0.4, 0.5, 0.6, 0.7, 0.8, 0.9, 1, 1.1, 1.2], "labels": false, "title": null,
                "tickSize": {"condition": {"test": "abs(datum.value*5-round(datum.value*5))<0.01", "value": 17}, "value": 8},
                "grid": true, "gridDash": {"condition": {"test": "abs(datum.value*5-round(datum.value*5))<0.01", "value": [17, 2000]}, "value": [8, 2000]}}},
            "y": {"field": "v", "type": "quantitative", "scale": {"type": "log", "domain": [100, 200000], "nice": false},
              "axis": {"orient": "left", "values": [100, 200, 300, 400, 500, 600, 700, 800, 900, 1000, 2000, 3000, 4000, 5000, 6000, 7000, 8000, 9000, 10000, 20000, 30000, 40000, 50000, 60000, 70000, 80000, 90000, 100000],
                "ticks": false, "tickSize": 0, "grid": true,
                "gridDash": {"condition": {"test": "abs(log(datum.value)/LN10-round(log(datum.value)/LN10))<0.001", "value": [17, 2000]}, "value": [8, 2000]},
                "labelExpr": "indexof([100,1000,10000,100000],datum.value)>=0?'10':''", "labelPadding": 33, "labelOffset": 10, "title": null}}
          }
        },
        {
          "data": {"values": [
            {"E": 0.4919, "v": 9570, "t": "B(α,p", "grp": "main"},
            {"E": 0.6154, "v": 9570, "t": ")", "grp": "main"},
            {"E": 0.6576, "v": 9570, "t": "C", "grp": "main"},
            {"E": 0.4015, "v": 521, "t": "(e)", "grp": "main"},
            {"E": 0.753, "v": 521, "t": "θ", "grp": "gamma"},
            {"E": 0.7995, "v": 521, "t": "= 130°", "grp": "gamma"},
            {"E": 0.994, "v": 521, "t": "θ", "grp": "lab"},
            {"E": 1.0669, "v": 521, "t": "= 90°", "grp": "lab"}
          ]},
          "mark": {"type": "text", "align": "left", "baseline": "alphabetic", "fontSize": 38, "font": "Liberation Serif"},
          "encoding": {
            "text": {"field": "t"},
            "color": {"field": "grp", "type": "nominal", "scale": {"domain": ["main", "gamma", "lab"], "range": ["black", "#1e90ff", "#2e8b57"]}, "legend": null}
          }
        },
        {
          "data": {"values": [
            {"E": 0.4605, "v": 26000, "t": "10", "grp": "main"},
            {"E": 0.5998, "v": 5210, "t": "3", "grp": "main"},
            {"E": 0.6325, "v": 26000, "t": "13", "grp": "main"},
            {"E": 0.7756, "v": 272, "t": "γ", "grp": "gamma"},
            {"E": 1.0154, "v": 296, "t": "lab", "grp": "lab"}
          ]},
          "mark": {"type": "text", "align": "left", "baseline": "alphabetic", "fontSize": 25, "font": "Liberation Serif"},
          "encoding": {
            "text": {"field": "t"},
            "color": {"field": "grp", "type": "nominal", "scale": {"domain": ["main", "gamma", "lab"], "range": ["black", "#1e90ff", "#2e8b57"]}, "legend": null},
            "y": {"field": "v", "type": "quantitative", "scale": {"type": "log", "domain": [100, 200000], "nice": false},
              "axis": {"orient": "left", "values": [100, 1000, 10000, 100000], "ticks": false, "tickSize": 0, "grid": false,
                "labelExpr": "''+round(log(datum.value)/LN10)", "labelFontSize": 29, "labelPadding": 18, "labelOffset": -14.5, "title": null}}
          }
        }
      ]
    },
    {
      "width": 693,
      "height": 177,
      "encoding": {
        "x": {"field": "E", "type": "quantitative", "scale": {"domain": [0.35, 1.22], "nice": false, "zero": false}, "axis": null},
        "y": {"field": "v", "type": "quantitative", "scale": {"type": "log", "domain": [100, 100000], "nice": false}, "axis": null}
      },
      "resolve": {"axis": {"x": "independent", "y": "independent"}},
      "layer": [
        {
          "data": {"values": [
            {"E": 0.7677, "v": 3140}, {"E": 0.7781, "v": 6430}, {"E": 0.7907, "v": 10810}, {"E": 0.8032, "v": 15970},
            {"E": 0.8116, "v": 18200}, {"E": 0.822, "v": 14020}, {"E": 0.8325, "v": 8340}, {"E": 0.8451, "v": 5640},
            {"E": 0.8535, "v": 3820}, {"E": 0.8618, "v": 1995}, {"E": 0.8702, "v": 1535}, {"E": 0.887, "v": 1040},
            {"E": 0.9037, "v": 659}, {"E": 0.9204, "v": 1183}, {"E": 0.9372, "v": 1040}, {"E": 0.9539, "v": 975},
            {"E": 0.9706, "v": 1349}, {"E": 0.9874, "v": 1640}, {"E": 1.0041, "v": 1349}, {"E": 1.0209, "v": 1183},
            {"E": 1.0334, "v": 802}, {"E": 1.046, "v": 1109}, {"E": 1.0564, "v": 1750}, {"E": 1.0627, "v": 4350},
            {"E": 1.069, "v": 7320}, {"E": 1.0753, "v": 8900}, {"E": 1.0816, "v": 7320}, {"E": 1.0878, "v": 4350},
            {"E": 1.0941, "v": 2270}, {"E": 1.1046, "v": 1040}, {"E": 1.1171, "v": 703}, {"E": 1.1297, "v": 477},
            {"E": 1.1422, "v": 477}, {"E": 1.1506, "v": 1040}, {"E": 1.159, "v": 1995}, {"E": 1.1673, "v": 2944},
            {"E": 1.1757, "v": 2944}, {"E": 1.1841, "v": 2128}, {"E": 1.1883, "v": 1535}
          ]},
          "mark": {"type": "point", "shape": "diamond", "filled": false, "color": "#2e8b57", "size": 190, "strokeWidth": 2, "opacity": 1, "clip": true}
        },
        {
          "data": {"values": [
            {"E": 0.55, "v": 85}, {"E": 0.5635, "v": 100}, {"E": 0.6011, "v": 148}, {"E": 0.643, "v": 249},
            {"E": 0.6848, "v": 477}, {"E": 0.7016, "v": 659}, {"E": 0.7279, "v": 1109}, {"E": 0.753, "v": 2582},
            {"E": 0.7781, "v": 7320}, {"E": 0.7949, "v": 13140}, {"E": 0.8074, "v": 15970}, {"E": 0.8242, "v": 9480},
            {"E": 0.8451, "v": 3820}, {"E": 0.8702, "v": 1750}, {"E": 0.8953, "v": 1109}, {"E": 0.9204, "v": 855},
            {"E": 0.9455, "v": 822}, {"E": 0.9706, "v": 1109}, {"E": 0.9874, "v": 1384}, {"E": 1.0083, "v": 1265},
            {"E": 1.0334, "v": 1040}, {"E": 1.0502, "v": 1349}, {"E": 1.0627, "v": 3820}, {"E": 1.0753, "v": 7320},
            {"E": 1.0857, "v": 2944}, {"E": 1.1004, "v": 913}, {"E": 1.1171, "v": 579}, {"E": 1.1338, "v": 508},
            {"E": 1.1506, "v": 703}, {"E": 1.1631, "v": 1535}, {"E": 1.1749, "v": 2420}, {"E": 1.1841, "v": 1535},
            {"E": 1.1966, "v": 703}, {"E": 1.2176, "v": 249}
          ]},
          "mark": {"type": "line", "color": "red", "strokeWidth": 2.5, "interpolate": "monotone", "clip": true},
          "encoding": {
            "x": {"field": "E", "type": "quantitative", "scale": {"domain": [0.35, 1.22], "nice": false, "zero": false},
              "axis": {"orient": "bottom", "values": [0.4, 0.5, 0.6, 0.7, 0.8, 0.9, 1, 1.1, 1.2], "labels": false, "title": null,
                "tickSize": {"condition": {"test": "abs(datum.value*5-round(datum.value*5))<0.01", "value": 17}, "value": 8},
                "grid": true, "gridDash": {"condition": {"test": "abs(datum.value*5-round(datum.value*5))<0.01", "value": [17, 2000]}, "value": [8, 2000]}}},
            "y": {"field": "v", "type": "quantitative", "scale": {"type": "log", "domain": [100, 100000], "nice": false},
              "axis": {"orient": "left", "values": [100, 200, 300, 400, 500, 600, 700, 800, 900, 1000, 2000, 3000, 4000, 5000, 6000, 7000, 8000, 9000, 10000, 20000, 30000, 40000, 50000, 60000, 70000, 80000, 90000],
                "ticks": false, "tickSize": 0, "grid": true,
                "gridDash": {"condition": {"test": "abs(log(datum.value)/LN10-round(log(datum.value)/LN10))<0.001", "value": [17, 2000]}, "value": [8, 2000]},
                "labelExpr": "indexof([100,1000,10000],datum.value)>=0?'10':''", "labelPadding": 33, "labelOffset": 10, "title": null}}
          }
        },
        {
          "data": {"values": [
            {"E": 0.478, "v": 4075, "t": "B(α,d)", "grp": "main"},
            {"E": 0.638, "v": 4075, "t": "C", "grp": "main"},
            {"E": 0.409, "v": 322, "t": "(f)", "grp": "main"},
            {"E": 0.8723, "v": 9620, "t": "θ", "grp": "main"},
            {"E": 0.9476, "v": 9620, "t": "= 90°", "grp": "main"}
          ]},
          "mark": {"type": "text", "align": "left", "baseline": "alphabetic", "fontSize": 38, "font": "Liberation Serif"},
          "encoding": {
            "text": {"field": "t"},
            "color": {"field": "grp", "type": "nominal", "scale": {"domain": ["main", "gamma", "lab"], "range": ["black", "#1e90ff", "#2e8b57"]}, "legend": null}
          }
        },
        {
          "data": {"values": [
            {"E": 0.4479, "v": 9620, "t": "10", "grp": "main"},
            {"E": 0.6079, "v": 9620, "t": "12", "grp": "main"},
            {"E": 0.8961, "v": 5570, "t": "lab", "grp": "main"}
          ]},
          "mark": {"type": "text", "align": "left", "baseline": "alphabetic", "fontSize": 25, "font": "Liberation Serif"},
          "encoding": {
            "text": {"field": "t"},
            "color": {"field": "grp", "type": "nominal", "scale": {"domain": ["main", "gamma", "lab"], "range": ["black", "#1e90ff", "#2e8b57"]}, "legend": null},
            "y": {"field": "v", "type": "quantitative", "scale": {"type": "log", "domain": [100, 100000], "nice": false},
              "axis": {"orient": "left", "values": [100, 1000, 10000], "ticks": false, "tickSize": 0, "grid": false,
                "labelExpr": "''+round(log(datum.value)/LN10)", "labelFontSize": 29, "labelPadding": 18, "labelOffset": -14.5, "title": null}}
          }
        }
      ]
    },
    {
      "width": 693,
      "height": 177,
      "encoding": {
        "x": {"field": "E", "type": "quantitative", "scale": {"domain": [0.35, 1.22], "nice": false, "zero": false}, "axis": null},
        "y": {"field": "v", "type": "quantitative", "scale": {"domain": [0, 0.28], "nice": false, "zero": false}, "axis": null}
      },
      "resolve": {"axis": {"x": "independent", "y": "independent"}},
      "layer": [
        {
          "data": {"values": [
            {"E": 0.7698, "v": 0.236}, {"E": 0.8053, "v": 0.1937}, {"E": 0.8409, "v": 0.1857}, {"E": 0.8765, "v": 0.1672},
            {"E": 0.912, "v": 0.1593}, {"E": 0.9476, "v": 0.1434}, {"E": 0.9832, "v": 0.1302}, {"E": 1.0, "v": 0.1275},
            {"E": 1.0209, "v": 0.1249}, {"E": 1.0376, "v": 0.1169}, {"E": 1.0564, "v": 0.1011}, {"E": 1.0732, "v": 0.1063},
            {"E": 1.092, "v": 0.1196}, {"E": 1.1088, "v": 0.1143}, {"E": 1.1255, "v": 0.109}, {"E": 1.1422, "v": 0.1143},
            {"E": 1.1673, "v": 0.0905}, {"E": 1.1841, "v": 0.0746}, {"E": 1.2008, "v": 0.072},
            {"E": 0.7128, "v": 0.0698}
          ]},
          "mark": {"type": "point", "shape": "triangle-down", "filled": false, "color": "#b9ae61", "size": 290, "strokeWidth": 2.5, "opacity": 1, "clip": true}
        },
        {
          "data": {"values": [
            {"E": 0.675, "v": 0.29}, {"E": 0.6848, "v": 0.278}, {"E": 0.7, "v": 0.262}, {"E": 0.7447, "v": 0.236},
            {"E": 0.7865, "v": 0.2095}, {"E": 0.8284, "v": 0.1857}, {"E": 0.8702, "v": 0.1672}, {"E": 0.912, "v": 0.154},
            {"E": 0.9539, "v": 0.1407}, {"E": 0.9958, "v": 0.1302}, {"E": 1.0292, "v": 0.1196}, {"E": 1.046, "v": 0.109},
            {"E": 1.0627, "v": 0.0984}, {"E": 1.0753, "v": 0.1037}, {"E": 1.0878, "v": 0.1196}, {"E": 1.1046, "v": 0.1222},
            {"E": 1.1213, "v": 0.1196}, {"E": 1.1464, "v": 0.1143}, {"E": 1.159, "v": 0.0984}, {"E": 1.1715, "v": 0.0773},
            {"E": 1.1841, "v": 0.064}, {"E": 1.2008, "v": 0.072}, {"E": 1.2176, "v": 0.0799}
          ]},
          "mark": {"type": "line", "color": "red", "strokeWidth": 2.5, "interpolate": "monotone", "clip": true},
          "encoding": {
            "x": {"field": "E", "type": "quantitative", "scale": {"domain": [0.35, 1.22], "nice": false, "zero": false},
              "axis": {"orient": "bottom", "values": [0.4, 0.5, 0.6, 0.7, 0.8, 0.9, 1, 1.1, 1.2],
                "labelExpr": "abs(datum.value*5-round(datum.value*5))<0.01 ? format(datum.value,'~g') : ''", "labelPadding": 14,
                "ticks": false, "tickSize": 0,
                "grid": true, "gridDash": {"condition": {"test": "abs(datum.value*5-round(datum.value*5))<0.01", "value": [17, 2000]}, "value": [8, 2000]},
                "title": "Center of Mass Energy (MeV)", "titleY": 101, "titleBaseline": "alphabetic"}},
            "y": {"field": "v", "type": "quantitative", "scale": {"domain": [0, 0.28], "nice": false, "zero": false},
              "axis": {"orient": "left", "values": [0, 0.05, 0.1, 0.15, 0.2, 0.25], "ticks": false, "tickSize": 0, "grid": true,
                "gridDash": {"condition": {"test": "abs(datum.value*10-round(datum.value*10))<0.01", "value": [17, 2000]}, "value": [8, 2000]},
                "labelExpr": "abs(datum.value*10-round(datum.value*10))<0.01 ? format(datum.value,'~g') : ''", "labelPadding": 18,
                "title": "dσ/dΩ (b/sr)", "titleX": -102, "titleY": 84, "titleAngle": -90, "titleBaseline": "alphabetic", "titleAlign": "center"}}
          }
        },
        {
          "data": {"values": [
            {"E": 0.4793, "v": 0.1413, "t": "θ", "grp": "main"},
            {"E": 0.5546, "v": 0.1413, "t": "= 170.5°", "grp": "main"},
            {"E": 0.3965, "v": 0.0667, "t": "(g)", "grp": "main"},
            {"E": 0.9853, "v": 0.1778, "t": "B(α,α", "grp": "main"},
            {"E": 1.1229, "v": 0.1778, "t": ")", "grp": "main"},
            {"E": 1.163, "v": 0.1778, "t": "B", "grp": "main"}
          ]},
          "mark": {"type": "text", "align": "left", "baseline": "alphabetic", "fontSize": 38, "font": "Liberation Serif"},
          "encoding": {
            "text": {"field": "t"},
            "color": {"field": "grp", "type": "nominal", "scale": {"domain": ["main", "gamma", "lab"], "range": ["black", "#1e90ff", "#2e8b57"]}, "legend": null}
          }
        },
        {
          "data": {"values": [
            {"E": 0.5032, "v": 0.1175, "t": "lab", "grp": "main"},
            {"E": 0.9564, "v": 0.2143, "t": "10", "grp": "main"},
            {"E": 1.0983, "v": 0.157, "t": "0", "grp": "main"},
            {"E": 1.1354, "v": 0.2143, "t": "10", "grp": "main"},
            {"E": 0.7618, "v": 0.0556, "t": "McIntyre et al. (1992)", "grp": "main"}
          ]},
          "mark": {"type": "text", "align": "left", "baseline": "alphabetic", "fontSize": 25, "font": "Liberation Serif"},
          "encoding": {
            "text": {"field": "t"},
            "color": {"field": "grp", "type": "nominal", "scale": {"domain": ["main", "gamma", "lab"], "range": ["black", "#1e90ff", "#2e8b57"]}, "legend": null}
          }
        }
      ]
    }
  ]
}
